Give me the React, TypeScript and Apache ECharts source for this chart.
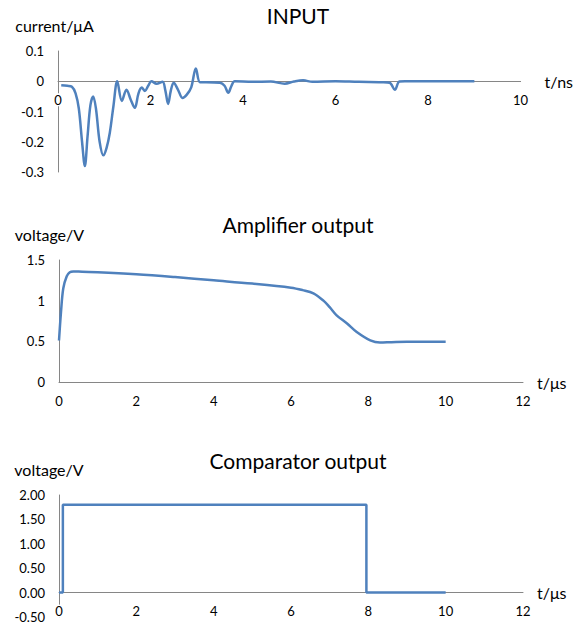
import React, { useEffect, useRef } from "react";
import * as echarts from "echarts";

// INPUT: detector current (µA) against time (ns)
const inputTime = [
  0.07, 0.2, 0.3, 0.38, 0.45, 0.52, 0.58, 0.64, 0.7, 0.76, 0.82, 0.9, 0.98, 1.05, 1.12, 1.2,
  1.28, 1.38, 1.48, 1.57, 1.66, 1.74, 1.81, 1.88, 1.95, 2.02, 2.13, 2.26, 2.32, 2.38, 2.44,
  2.5, 2.6, 2.69, 2.78, 2.88, 2.98, 3.07, 3.2, 3.5, 3.6, 3.68, 3.75, 3.82, 4.2, 4.6, 4.9,
  5.1, 5.3, 5.5, 6.0, 6.5, 7.0, 7.17, 7.28, 7.38, 7.5, 8.0, 8.5, 9.0,
];
const inputCurrent = [
  -0.013, -0.015, -0.018, -0.04, -0.09, -0.2, -0.28, -0.18, -0.08, -0.05, -0.09, -0.2, -0.245,
  -0.22, -0.17, -0.08, 0.0, -0.065, -0.028, -0.06, -0.088, -0.04, -0.021, -0.032, -0.015, 0.0,
  -0.008, -0.002, -0.03, -0.075, -0.03, -0.005, -0.03, -0.055, -0.045, -0.02, 0.042, -0.003,
  -0.003, -0.005, -0.015, -0.038, -0.015, 0.0, -0.002, -0.001, -0.008, -0.001, 0.003, -0.002,
  0.0, -0.002, -0.003, -0.005, -0.028, -0.001, 0.0, 0.0, 0.0, 0.0,
];

// Amplifier output voltage (V) against time (µs)
const ampTime = [
  0, 0.05, 0.11, 0.2, 0.28, 0.37, 0.6, 1, 2, 3, 4, 5, 6, 6.3, 6.58, 6.84, 7.0, 7.18, 7.45,
  7.7, 8.05, 8.3, 8.6, 9, 9.5, 10,
];
const ampVoltage = [
  0.51, 0.85, 1.15, 1.3, 1.35, 1.36, 1.355, 1.35, 1.325, 1.29, 1.25, 1.21, 1.16, 1.13, 1.09,
  1.0, 0.92, 0.82, 0.72, 0.615, 0.513, 0.485, 0.49, 0.495, 0.495, 0.495,
];

// Comparator output voltage (V) against time (µs)
const cmpTime = [0, 0.1, 0.1, 7.95, 7.95, 10];
const cmpVoltage = [0, 0, 1.8, 1.8, 0, 0];

const titles = ["INPUT", "Amplifier output", "Comparator output"];

const zip = (xs: number[], ys: number[]) => xs.map((x, i) => [x, ys[i]]);

const FONT = "Lato";
const LINE = "#4F81BD";
const AXIS = "#868686";

// plot areas: [left, top, width, height]
const GRIDS = [
  [58, 51, 463, 121],
  [59, 260, 464, 122],
  [59, 495, 464, 122],
];
// y ranges per panel, used to lift each time axis up to the zero line
const Y_RANGES = [
  [-0.3, 0.1],
  [0, 1.5],
  [-0.5, 2],
];
const zeroLift = (i: number) => {
  const [, , , h] = GRIDS[i];
  const [lo, hi] = Y_RANGES[i];
  return -(h * (0 - lo)) / (hi - lo);
};

export default function App() {
  const ref = useRef<HTMLDivElement>(null);

  useEffect(() => {
    if (!ref.current) return;
    const chart = echarts.init(ref.current, undefined, { renderer: "svg" });

    const tick = { color: "#000", fontSize: 13, fontFamily: FONT };
    const nameStyle = { color: "#000", fontSize: 16, fontFamily: FONT };
    const titleStyle = { color: "#000", fontSize: 21, fontWeight: "normal" as const, fontFamily: FONT };

    const xAxisBase = (grid: number, max: number, name: string, gap: number) => ({
      type: "value" as const,
      gridIndex: grid,
      min: 0,
      max,
      interval: 2,
      name,
      nameLocation: "end" as const,
      nameGap: gap,
      nameTextStyle: nameStyle,
      offset: zeroLift(grid),
      axisLine: { show: true, onZero: false, lineStyle: { color: AXIS, width: 1 } },
      axisTick: { show: false },
      splitLine: { show: false },
      axisLabel: { ...tick, margin: 12, backgroundColor: "#fff", padding: [0, 1] },
      z: 3,
    });

    const yAxisBase = (
      grid: number,
      interval: number,
      name: string,
      padRight: number,
      fmt?: (v: number) => string
    ) => ({
      type: "value" as const,
      gridIndex: grid,
      min: Y_RANGES[grid][0],
      max: Y_RANGES[grid][1],
      interval,
      name,
      nameLocation: "end" as const,
      nameGap: 18,
      nameTextStyle: { ...nameStyle, align: "center", padding: [0, padRight, 0, 0] },
      axisLine: { show: true, onZero: false, lineStyle: { color: AXIS, width: 1 } },
      axisTick: { show: false },
      splitLine: { show: false },
      axisLabel: { ...tick, margin: 14, formatter: fmt },
      z: 1,
    });

    chart.setOption({
      animation: false,
      title: [
        { text: titles[0], left: 293, top: 0, textAlign: "center", textStyle: titleStyle },
        { text: titles[1], left: 293, top: 209, textAlign: "center", textStyle: titleStyle },
        { text: titles[2], left: 293, top: 445, textAlign: "center", textStyle: titleStyle },
      ],
      grid: GRIDS.map(([left, top, width, height]) => ({ left, top, width, height })),
      xAxis: [
        xAxisBase(0, 10, "t/ns", 24),
        xAxisBase(1, 12, "t/μs", 14),
        xAxisBase(2, 12, "t/μs", 14),
      ],
      yAxis: [
        yAxisBase(0, 0.1, "current/μA", 7, (v: number) =>
          Math.abs(v) < 1e-9 ? "0" : String(Math.round(v * 10) / 10)
        ),
        yAxisBase(1, 0.5, "voltage/V", 19),
        yAxisBase(2, 0.5, "voltage/V", 20, (v: number) => v.toFixed(2)),
      ],
      series: [
        {
          type: "line",
          xAxisIndex: 0,
          yAxisIndex: 0,
          data: zip(inputTime, inputCurrent),
          smooth: 0.35,
          showSymbol: false,
          lineStyle: { color: LINE, width: 2.5 },
        },
        {
          type: "line",
          xAxisIndex: 1,
          yAxisIndex: 1,
          data: zip(ampTime, ampVoltage),
          smooth: 0.35,
          showSymbol: false,
          lineStyle: { color: LINE, width: 2.5 },
        },
        {
          type: "line",
          xAxisIndex: 2,
          yAxisIndex: 2,
          data: zip(cmpTime, cmpVoltage),
          showSymbol: false,
          lineStyle: { color: LINE, width: 2.5 },
        },
      ],
    });

    return () => chart.dispose();
  }, []);

  return (
    <div
      ref={ref}
      style={{ position: "fixed", left: 0, top: 0, width: 574, height: 631, background: "#fff" }}
    />
  );
}
